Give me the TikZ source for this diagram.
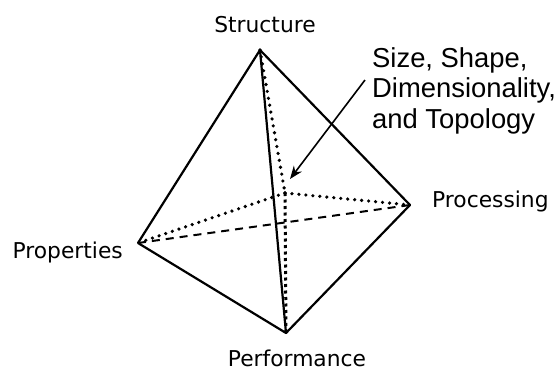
\documentclass[tikz,border=0pt]{standalone}
\usepackage{fontspec}
\setmainfont{Liberation Sans}
\newfontfamily\lblfont{DejaVu Sans}
\usetikzlibrary{arrows.meta}
\begin{document}
\begin{tikzpicture}[x=1pt,y=-1pt,
  lbl/.style={font=\lblfont\fontsize{21.8}{26}\selectfont, inner sep=0pt},
  edge/.style={line width=2.2pt, line join=round, line cap=round},
  hidden/.style={line width=3.6pt, dash pattern=on 0pt off 7pt, line cap=round},
  hiddensq/.style={line width=3pt, dash pattern=on 3pt off 3.5pt},
  back/.style={line width=2pt, dash pattern=on 8pt off 6pt}]
\useasboundingbox (0,0) rectangle (560,370);
% vertices
\coordinate (S) at (260,50);
\coordinate (Pr) at (138,243);
\coordinate (Pc) at (410,205);
\coordinate (Pf) at (286,333);
\coordinate (C) at (285,193);
% hidden edges
\draw[back] (Pr) -- (Pc);
\draw[hidden] (S) -- (C);
\draw[hidden] (C) -- (Pr);
\draw[hidden] (C) -- (Pc);
\draw[hiddensq] (C) -- (Pf);
% visible edges
\draw[edge] (Pr) -- (S) -- (Pc) -- (Pf) -- (Pr);
\draw[edge] (S) -- (Pf);
% labels
\node[lbl, anchor=base] (tS) at (265,32) {Structure};
\node[lbl, anchor=base east] (tPr) at (123,258) {Properties};
\node[lbl, anchor=base west] (tPc) at (432,207) {Processing};
\node[lbl, anchor=base] (tPf) at (297,366) {Performance};
% annotation
\node[anchor=north west, align=left, inner sep=0pt,
      font=\fontsize{27.4}{30.5}\selectfont] (ann) at (372,47)
  {Size, Shape,\\Dimensionality,\\and Topology};
\coordinate (astart) at (365,80);
\coordinate (aend) at (290,179);
\draw[line width=1.6pt, -{Stealth[length=13pt, width=10pt]}] (astart) -- (aend);
\end{tikzpicture}
\end{document}
